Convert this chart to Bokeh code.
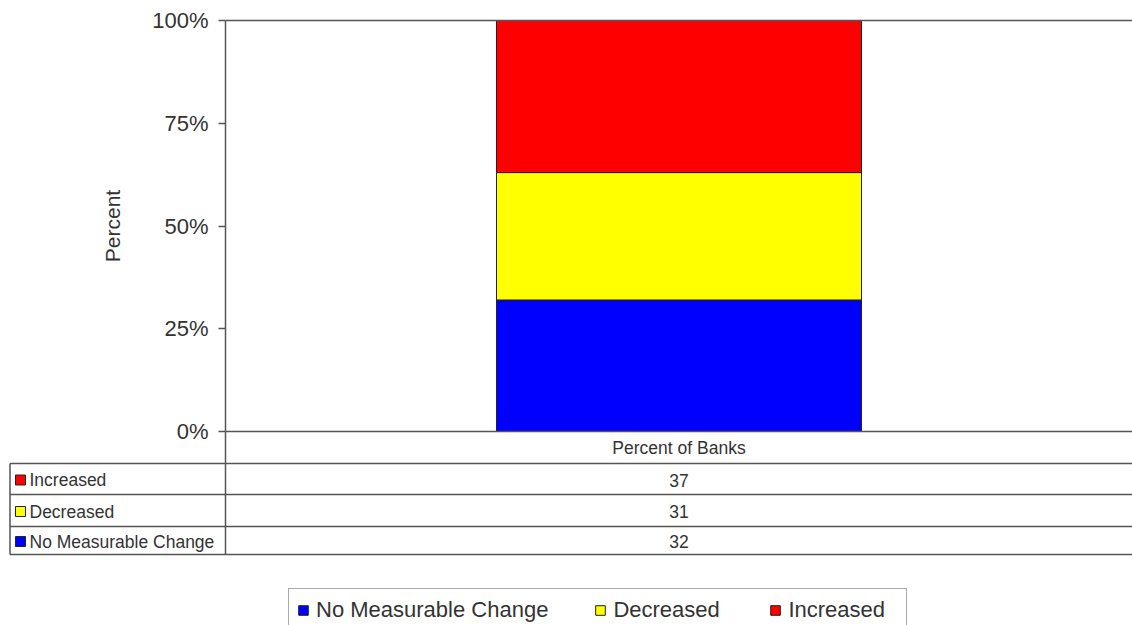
from bokeh.plotting import figure
from bokeh.models import (Range1d, LinearAxis, FixedTicker, PrintfTickFormatter,
                          ColumnDataSource, Legend, LegendItem)
from bokeh.core.properties import value
from bokeh.embed import file_html
from bokeh.resources import INLINE

# ---------------- data ----------------
categories = ["Percent of Banks"]
series = ["No Measurable Change", "Decreased", "Increased"]
no_change = [32]
decreased = [31]
increased = [37]
colors = ["#0000FF", "#FFFF00", "#FF0000"]
y_ticks = [0, 25, 50, 75, 100]

# ---------------- layout (page pixels) ----------------
W, H = 1132, 625
PAGE_LEFT, PAGE_TOP = 0, 0
PAGE_RIGHT, PAGE_BOTTOM = PAGE_LEFT + W, PAGE_TOP + H
FRAME_TOP = 0
TOP_PX, ZERO_PX = 20, 431
PLOT_LEFT, PLOT_RIGHT = 225, 1132
TABLE_PX = [463, 494, 526, 554]
TABLE_LEFT = 9.5

ppy = (ZERO_PX - TOP_PX) / 100.0
ppx = PLOT_RIGHT - PLOT_LEFT


def dy(pix):
    return (ZERO_PX - pix) / ppy


def dx(pix):
    return (pix - PLOT_LEFT) / ppx


FONT = value("Liberation Sans")
TXT = "#333333"
LINE = "#555555"

p = figure(width=W, height=H, output_backend="svg", toolbar_location=None,
           x_range=Range1d(dx(PAGE_LEFT), dx(PAGE_RIGHT)),
           y_range=Range1d(dy(PAGE_BOTTOM), dy(FRAME_TOP)),
           x_axis_location=None, y_axis_location=None,
           min_border_left=0, min_border_right=0,
           min_border_top=0, min_border_bottom=0)
p.grid.visible = False
p.outline_line_color = None
p.background_fill_color = "white"
p.border_fill_color = "white"

# ---------------- bars ----------------
xs = [i + 0.5 for i in range(len(categories))]
source = ColumnDataSource(dict(x=xs, no=no_change, dec=decreased, inc=increased))
bar_w = (862 - 497) / ppx
rends = p.vbar_stack(["no", "dec", "inc"], x="x", width=bar_w, source=source,
                     fill_color=colors, line_color="#222222", line_width=1)

# ---------------- plot frame lines ----------------
x_end = dx(PAGE_RIGHT)
p.segment(x0=[0, 0], y0=[100, 0], x1=[x_end, x_end], y1=[100, 0],
          line_color=LINE, line_width=1.5)

# ---------------- data table ----------------
row_y = [dy(v) for v in TABLE_PX]
p.segment(x0=[dx(TABLE_LEFT)] * len(row_y), y0=row_y,
          x1=[x_end] * len(row_y), y1=row_y, line_color=LINE, line_width=1.5)
p.segment(x0=[dx(TABLE_LEFT), 0], y0=[row_y[0], 0], x1=[dx(TABLE_LEFT), 0],
          y1=[row_y[-1], row_y[-1]], line_color=LINE, line_width=1.5)

# header row
p.text(x=xs, y=[dy((ZERO_PX + TABLE_PX[0]) / 2)], text=categories,
       text_align="center", text_baseline="middle", text_font=FONT,
       text_font_size="17.5px", text_color=TXT)

# table rows, top to bottom: Increased, Decreased, No Measurable Change
row_names = list(reversed(series))
row_vals = [str(increased[0]), str(decreased[0]), str(no_change[0])]
row_cols = list(reversed(colors))
row_mid = [dy((TABLE_PX[i] + TABLE_PX[i + 1]) / 2 + 1) for i in range(3)]
p.text(x=[xs[0]] * 3, y=row_mid, text=row_vals, text_align="center",
       text_baseline="middle", text_font=FONT, text_font_size="17.5px", text_color=TXT)
p.scatter(x=[dx(20)] * 3, y=row_mid, marker="square", size=10,
          fill_color=row_cols, line_color="#222222", line_width=1)
p.text(x=[dx(29)] * 3, y=row_mid, text=row_names, text_align="left",
       text_baseline="middle", text_font=FONT, text_font_size="17.5px", text_color=TXT)

# ---------------- y axis ----------------
yaxis = LinearAxis(fixed_location=0, bounds=(0, 100),
                   ticker=FixedTicker(ticks=y_ticks),
                   formatter=PrintfTickFormatter(format="%d%%"),
                   axis_label="Percent")
yaxis.axis_line_color = LINE
yaxis.axis_line_width = 1.5
yaxis.major_tick_line_color = LINE
yaxis.major_tick_line_width = 1.5
yaxis.major_tick_out = 7
yaxis.major_tick_in = 0
yaxis.minor_tick_out = 0
yaxis.minor_tick_in = 0
yaxis.major_label_standoff = 10
yaxis.major_label_text_font = "Liberation Sans"
yaxis.major_label_text_font_size = "22px"
yaxis.major_label_text_color = TXT
yaxis.axis_label_text_font = "Liberation Sans"
yaxis.axis_label_text_font_size = "21px"
yaxis.axis_label_text_font_style = "normal"
yaxis.axis_label_text_color = TXT
yaxis.axis_label_standoff = 25
p.add_layout(yaxis, "left")

# ---------------- legend ----------------
legend = Legend(items=[LegendItem(label=s, renderers=[r]) for s, r in zip(series, rends)],
                orientation="horizontal", location=(288, -7))
legend.padding = 8
legend.spacing = 46
legend.margin = 0
legend.glyph_width = 12
legend.glyph_height = 12
legend.label_standoff = 7
legend.label_width = 110
legend.label_text_font = "Liberation Sans"
legend.label_text_font_size = "22px"
legend.label_text_color = TXT
legend.border_line_color = LINE
legend.border_line_width = 1.5
legend.background_fill_alpha = 1
p.add_layout(legend)

open("out.html", "w").write(file_html(p, INLINE))
